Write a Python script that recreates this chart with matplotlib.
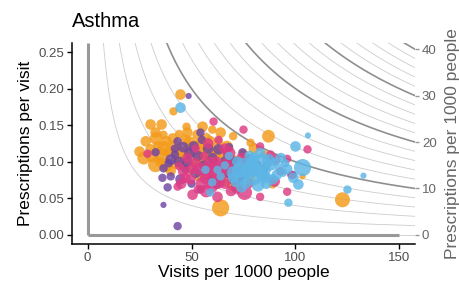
import numpy as np
import matplotlib
matplotlib.use("Agg")
import matplotlib.pyplot as plt

plt.rcParams["font.family"] = ["Liberation Sans", "DejaVu Sans"]

#   data: (visits per 1000, prescriptions per visit, practice size)
orange_x = [44.7, 41.3, 30.3, 35.6, 32.7, 36.5, 47.6, 55.3, 60, 30.3, 34, 32.7, 39, 42.3, 48, 47,
            52.9, 42.3, 57.7, 52.9, 69.7, 64, 70, 78.4, 87, 103.4, 89, 122.6, 70.7, 25, 27, 36,
            45, 50, 55, 58, 62, 65, 60, 38, 44, 57, 50, 66, 72, 40, 63, 75, 68, 78, 85, 62, 54,
            28, 33, 37, 41, 46, 49, 53, 56, 59, 61, 43, 35, 31, 38, 48, 64, 67, 58, 74, 80]
orange_y = [0.192, 0.169, 0.151, 0.151, 0.140, 0.137, 0.148, 0.148, 0.144, 0.117, 0.121, 0.096,
            0.114, 0.121, 0.114, 0.130, 0.137, 0.099, 0.099, 0.103, 0.103, 0.037, 0.135, 0.126,
            0.135, 0.080, 0.069, 0.048, 0.069, 0.114, 0.105, 0.108, 0.108, 0.118, 0.125, 0.112,
            0.118, 0.108, 0.095, 0.128, 0.138, 0.132, 0.092, 0.088, 0.098, 0.088, 0.128, 0.110,
            0.075, 0.080, 0.110, 0.080, 0.080,
            0.128, 0.132, 0.118, 0.132, 0.100, 0.126, 0.120, 0.104, 0.128, 0.110, 0.115, 0.100,
            0.108, 0.095, 0.140, 0.140, 0.120, 0.090, 0.090, 0.118]
orange_n = [3, 2, 3, 3, 3, 2, 2, 3, 2, 3, 3, 5, 3, 4, 4, 3, 3, 4, 4, 5, 3, 6, 2, 2, 4, 1, 2, 5,
            5, 3, 4, 5, 6, 5, 4, 6, 3, 4, 3, 3, 2, 3, 4, 3, 4, 3, 2, 3, 5, 3, 2, 5, 3,
            3, 4, 5, 3, 5, 4, 5, 4, 3, 5, 4, 3, 4, 4, 3, 3, 4, 4, 3, 3]

magenta_x = [60.6, 28.8, 43.3, 50.5, 62.5, 46, 49.5, 69.7, 63, 75, 83, 105.8, 96, 96, 90.4, 83,
             75.5, 90, 98, 92.8, 55, 58, 65, 52, 60, 70, 72, 48, 56, 66, 80, 85, 78, 44, 53, 62,
             68, 76, 86, 52, 58,
             54, 57, 61, 64, 67, 71, 73, 59, 50, 47, 63, 74, 81, 69, 57, 45, 88, 66]
magenta_y = [0.155, 0.111, 0.066, 0.055, 0.052, 0.087, 0.076, 0.076, 0.130, 0.144, 0.121, 0.117,
             0.104, 0.059, 0.103, 0.052, 0.058, 0.073, 0.082, 0.087, 0.070, 0.085, 0.092, 0.098,
             0.065, 0.090, 0.065, 0.105, 0.108, 0.070, 0.088, 0.080, 0.070, 0.094, 0.062, 0.100,
             0.112, 0.100, 0.095, 0.118, 0.125,
             0.090, 0.078, 0.088, 0.082, 0.098, 0.082, 0.095, 0.098, 0.090, 0.078, 0.072, 0.105,
             0.095, 0.060, 0.060, 0.070, 0.110, 0.118]
magenta_n = [2, 2, 2, 3, 3, 3, 3, 3, 2, 2, 2, 2, 2, 2, 3, 2, 5, 3, 2, 2, 4, 5, 4, 3, 3, 3, 4, 3,
             2, 3, 3, 2, 2, 2, 2, 3, 4, 3, 2, 2, 3,
             4, 4, 5, 4, 3, 4, 3, 4, 3, 3, 4, 3, 3, 3, 4, 3, 2, 3]

purple_x = [48.6, 36.5, 36, 38.5, 36.5, 43.3, 54.3, 40, 43.3, 54.3, 51, 44.7, 63, 67.3, 32.7,
            74.5, 67.3, 81.7, 98.6, 74.5, 48, 52, 58, 42, 56, 60, 64, 70, 46, 50, 40, 62, 78, 85,
            44, 47, 53, 57, 61, 66, 71, 49, 39, 55, 59, 42, 73, 68, 88, 77]
purple_y = [0.190, 0.091, 0.078, 0.065, 0.041, 0.012, 0.062, 0.103, 0.128, 0.140, 0.121, 0.076,
            0.117, 0.085, 0.113, 0.113, 0.110, 0.096, 0.082, 0.082, 0.100, 0.085, 0.118, 0.110,
            0.095, 0.105, 0.092, 0.100, 0.120, 0.070, 0.080, 0.070, 0.105, 0.090,
            0.100, 0.090, 0.108, 0.088, 0.098, 0.102, 0.092, 0.112, 0.098, 0.130, 0.076, 0.118,
            0.075, 0.120, 0.105, 0.090]
purple_n = [1, 2, 2, 2, 1, 2, 2, 3, 2, 2, 3, 3, 3, 3, 2, 2, 2, 2, 2, 3, 3, 3, 3, 2, 3, 3, 2, 3,
            3, 2, 2, 3, 2, 2,
            3, 2, 3, 2, 3, 2, 2, 3, 2, 2, 2, 2, 2, 2, 2, 2]

blue_x = [44.7, 56.7, 62.5, 59, 71, 106, 100, 103.4, 101.4, 96.6, 125, 132.7, 94, 89, 83.7, 78.8,
          70, 75, 80, 85, 88, 72, 66, 82, 90, 64, 76, 92, 68, 86, 95, 60, 74, 80,
          73, 77, 81, 84, 87, 79, 70, 91, 93, 83, 96, 78, 86, 74, 99]
blue_y = [0.174, 0.089, 0.089, 0.058, 0.071, 0.136, 0.121, 0.092, 0.069, 0.044, 0.062, 0.081,
          0.085, 0.076, 0.100, 0.092, 0.085, 0.095, 0.078, 0.088, 0.095, 0.100, 0.095, 0.068,
          0.100, 0.080, 0.070, 0.092, 0.108, 0.078, 0.098, 0.072, 0.078, 0.105,
          0.088, 0.085, 0.090, 0.082, 0.102, 0.098, 0.078, 0.082, 0.105, 0.112, 0.090,
          0.108, 0.070, 0.065, 0.078]
blue_n = [3, 2, 2, 2, 2, 1, 3, 6, 3, 2, 2, 1, 2, 3, 6, 6, 4, 5, 5, 4, 3, 3, 2, 4, 2, 2, 3, 2, 2,
          3, 2, 2, 4, 3,
          5, 4, 5, 4, 4, 4, 3, 3, 3, 3, 3, 3, 3, 3, 3]

# drawing order: orange, purple, magenta, blue
groups = [
    (orange_x, orange_y, orange_n, "#F39A1A"),
    (purple_x, purple_y, purple_n, "#6F46A3"),
    (magenta_x, magenta_y, magenta_n, "#DD3C84"),
    (blue_x, blue_y, blue_n, "#5CB6E6"),
]

rx_levels = list(range(2, 42, 2))   # prescriptions per 1000 people
right_ticks = [0, 10, 20, 30, 40]

xmax = 157.5
ymin, ymax = -0.0125, 0.2625

fig = plt.figure(figsize=(4.59, 2.91), dpi=100)
ax = fig.add_axes([72 / 459, 47 / 291, 343 / 459, 201 / 291])

# iso-prescription curves
xs = np.linspace(0.3, xmax, 600)
for p in rx_levels:
    if p % 10 == 0:
        ax.plot(xs, p / xs, color="#8f8f8f", lw=1.2, zorder=1)
    else:
        ax.plot(xs, p / xs, color="#cccccc", lw=0.6, zorder=1)
ax.plot([0, xmax], [0, 0], color="#cccccc", lw=0.6, zorder=1)
ax.plot([0, 0], [0, ymax], color="#999999", lw=2.2, zorder=2, solid_capstyle="butt")
ax.plot([0, 150], [0, 0], color="#999999", lw=2.2, zorder=2, solid_capstyle="butt")

for gx, gy, gn, col in groups:
    sizes = [(0.72 * (4 + 2.2 * n)) ** 2 for n in gn]
    ax.scatter(gx, gy, s=sizes, color=col, alpha=0.82, linewidths=0, zorder=3)

ax.set_xlim(-7.5, xmax)
ax.set_ylim(ymin, ymax)
ax.set_xticks([0, 50, 100, 150])
ax.set_yticks([0, 0.05, 0.10, 0.15, 0.20, 0.25])
ax.set_yticklabels(["0.00", "0.05", "0.10", "0.15", "0.20", "0.25"])
for s in ["top", "right"]:
    ax.spines[s].set_visible(False)
for s in ["left", "bottom"]:
    ax.spines[s].set_linewidth(1.1)
ax.tick_params(length=3.5, width=1.0, labelsize=9.5, labelcolor="#4d4d4d", pad=2)
ax.set_xlabel("Visits per 1000 people", fontsize=12.5, labelpad=1)
ax.set_ylabel("Prescriptions per visit", fontsize=12.5, labelpad=4)

# right axis: prescriptions per 1000 people at the right edge
ax2 = ax.twinx()
ax2.set_ylim(ymin, ymax)
ax2.set_yticks([p / xmax for p in right_ticks])
ax2.set_yticklabels([str(p) for p in right_ticks])
for s in ax2.spines.values():
    s.set_visible(False)
ax2.tick_params(axis="y", length=3, width=1.0, color="#999999", labelsize=9.5,
                labelcolor="#666666", pad=2)
ax2.set_ylabel("Prescriptions per 1000 people", fontsize=12.5, color="#666666", labelpad=6)

fig.text(72 / 459, 1 - 12 / 291, "Asthma", fontsize=14.5, va="top", ha="left")

fig.savefig("out.png", dpi=100)
